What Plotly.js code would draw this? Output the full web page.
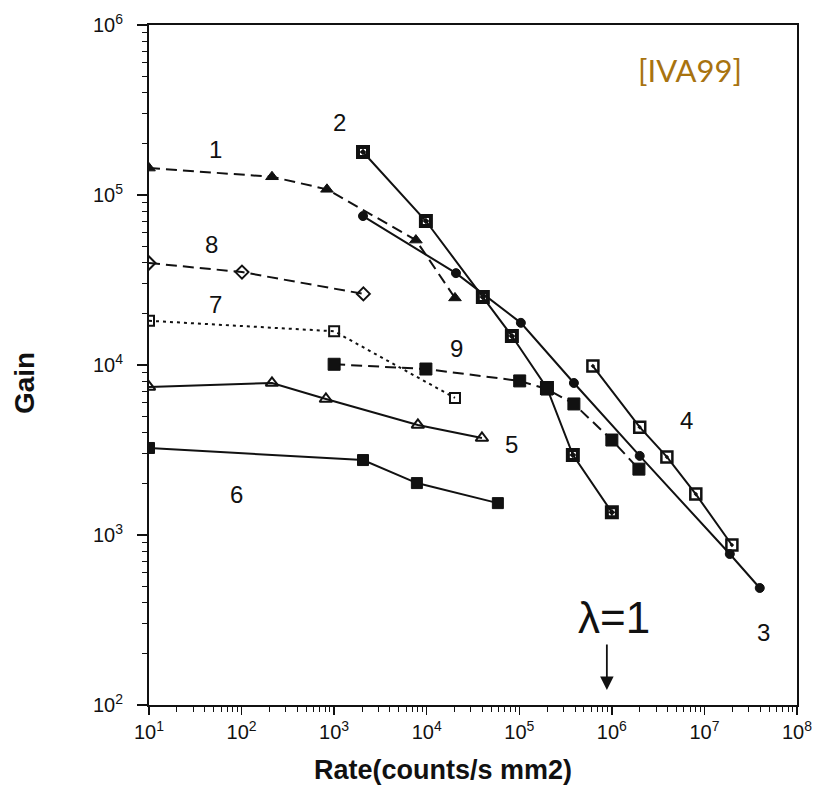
<!DOCTYPE html>
<html><head><meta charset="utf-8">
<script src="https://cdn.plot.ly/plotly-3.0.1.min.js"></script>
<style>body{margin:0;background:#fff}#chart{width:823px;height:793px}</style>
</head><body><div id="chart"></div>
<script>
// Data (Rate in counts/s mm2, Gain)
const s1x = [10, 213, 836, 7640, 20200];
const s1y = [144000, 128000, 108000, 54300, 24800];
const s2x = [2050, 9800, 40400, 83200, 199000, 379000, 1000000];
const s2y = [179000, 70300, 25100, 14800, 7330, 2960, 1360];
const s3x = [2050, 20700, 104000, 389000, 2000000, 18800000, 39600000];
const s3y = [75200, 34700, 17700, 7840, 2920, 773, 488];
const s4x = [624000, 2000000, 3930000, 8070000, 19800000];
const s4y = [9860, 4310, 2880, 1740, 873];
const s5x = [10, 213, 815, 8030, 39500];
const s5y = [7430, 7840, 6310, 4440, 3720];
const s6x = [10, 2050, 7830, 58700];
const s6y = [3250, 2760, 2020, 1540];
const s7x = [10, 1000, 20200];
const s7y = [18200, 15800, 6400];
const s8x = [10, 101, 2070];
const s8y = [39800, 35200, 26200];
const s9x = [1000, 9800, 101000, 199000, 389000, 1000000, 1960000];
const s9y = [10100, 9470, 8060, 7220, 5900, 3620, 2440];

const curveLabels = ["1", "2", "3", "4", "5", "6", "7", "8", "9"];
const xTickVals = [1e1, 1e2, 1e3, 1e4, 1e5, 1e6, 1e7, 1e8];
const xTickText = ["10<sup>1</sup>", "10<sup>2</sup>", "10<sup>3</sup>", "10<sup>4</sup>", "10<sup>5</sup>", "10<sup>6</sup>", "10<sup>7</sup>", "10<sup>8</sup>"];
const yTickVals = [1e2, 1e3, 1e4, 1e5, 1e6];
const yTickText = ["10<sup>2</sup>", "10<sup>3</sup>", "10<sup>4</sup>", "10<sup>5</sup>", "10<sup>6</sup>"];

// minor tick positions (2..9 x 10^k) for log axes
function minorVals(lo, hi) {
  const out = [];
  for (let k = lo; k < hi; k++) for (let m = 2; m <= 9; m++) out.push(m * Math.pow(10, k));
  return out;
}

const K = '#111';
function tr(x, y, dash, sym, size, lw) {
  return {x: x, y: y, type: 'scatter', mode: 'lines+markers', showlegend: false,
    line: {color: K, width: 2, dash: dash},
    marker: {symbol: sym, size: size, color: K, line: {color: K, width: lw}}};
}
const data = [
  tr(s1x, s1y, '11px,6px', 'triangle-up', 11, 1),
  tr(s2x, s2y, 'solid', 'square-open-dot', 10, 4),
  tr(s3x, s3y, 'solid', 'circle', 9, 1),
  tr(s4x, s4y, 'solid', 'square-open-dot', 11, 2.5),
  tr(s5x, s5y, 'solid', 'triangle-up-open', 11, 2),
  tr(s6x, s6y, 'solid', 'square', 11, 1),
  tr(s7x, s7y, '3px,4px', 'square-open', 10, 2),
  tr(s8x, s8y, '11px,6px', 'diamond-open', 10, 2),
  tr(s9x, s9y, '11px,6px', 'square', 12, 1)
];

const labPos = [[1.713, 5.265], [3.063, 5.424], [7.641, 2.424], [6.81, 3.676], [4.92, 3.535], [1.95, 3.241], [1.713, 4.353], [1.68, 4.706], [4.326, 4.1]];
const annotations = curveLabels.map((t, i) => ({
  text: t, x: labPos[i][0], y: labPos[i][1], xref: 'x', yref: 'y', showarrow: false,
  font: {family: 'Liberation Sans, Arial, sans-serif', size: 24, color: K}
}));
annotations.push({text: 'λ=1', x: 6.02, y: 2.512, xref: 'x', yref: 'y', showarrow: false,
  font: {family: 'Liberation Sans, Arial, sans-serif', size: 44, color: K}});
annotations.push({text: '', x: 5.946, y: 2.088, xref: 'x', yref: 'y', showarrow: true,
  ax: 0, ay: -47, arrowhead: 2, arrowsize: 1.5, arrowwidth: 1.8, arrowcolor: K});
annotations.push({text: '[IVA99]', x: 0.835, y: 0.934, xref: 'paper', yref: 'paper',
  xanchor: 'center', yanchor: 'middle', showarrow: false,
  font: {family: 'Lato, sans-serif', size: 31, color: '#a8730f'}});
// axis titles
annotations.push({text: '<b>Rate(counts/s mm2)</b>', x: (443 - 149) / 648, y: -0.0956, xref: 'paper', yref: 'paper',
  xanchor: 'center', yanchor: 'middle', showarrow: false,
  font: {family: 'Liberation Sans, Arial, sans-serif', size: 27, color: K}});
annotations.push({text: '<b>Gain</b>', x: (24 - 149) / 648, y: 0.4735, xref: 'paper', yref: 'paper', textangle: -90,
  xanchor: 'center', yanchor: 'middle', showarrow: false,
  font: {family: 'Liberation Sans, Arial, sans-serif', size: 28, color: K}});

const tickFont = {family: 'Liberation Sans, Arial, sans-serif', size: 20, color: K};
const layout = {
  width: 823, height: 793,
  margin: {l: 149, r: 26, t: 25, b: 88},
  paper_bgcolor: '#fff', plot_bgcolor: '#fff',
  xaxis: {type: 'log', range: [1, 8], showgrid: false, zeroline: false,
    showline: true, linecolor: K, linewidth: 2, mirror: true,
    ticks: 'outside', ticklen: 8, tickwidth: 1.5, tickcolor: K,
    tickvals: xTickVals, ticktext: xTickText, tickfont: tickFont, ticklabelstandoff: 0,
    minor: {tickmode: 'array', tickvals: minorVals(1, 8), ticks: 'outside', ticklen: 5, tickcolor: K, tickwidth: 1, showgrid: false}},
  yaxis: {type: 'log', range: [2, 6], showgrid: false, zeroline: false,
    showline: true, linecolor: K, linewidth: 2, mirror: true,
    ticks: 'outside', ticklen: 10, tickwidth: 1.5, tickcolor: K,
    tickvals: yTickVals, ticktext: yTickText, tickfont: tickFont, ticklabelstandoff: 10,
    minor: {tickmode: 'array', tickvals: minorVals(2, 6), ticks: 'outside', ticklen: 5, tickcolor: K, tickwidth: 1, showgrid: false}},
  annotations: annotations
};
Plotly.newPlot('chart', data, layout, {displayModeBar: false, staticPlot: true});
</script></body></html>
